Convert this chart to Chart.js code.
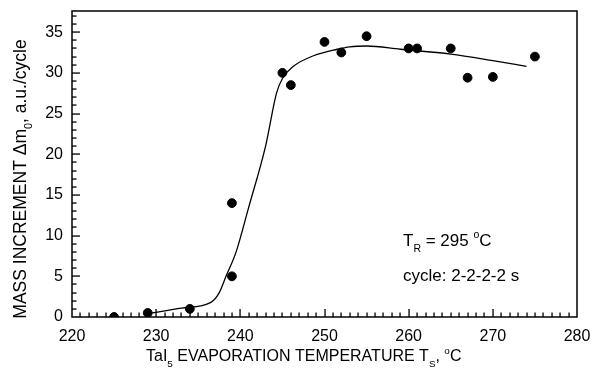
<!DOCTYPE html>
<html>
<head>
<meta charset="utf-8">
<script src="https://cdn.jsdelivr.net/npm/chart.js@4"></script>
<style>
  html, body { margin: 0; padding: 0; background: #fff; }
  #wrap { width: 592px; height: 377px; }
</style>
</head>
<body>
<div id="wrap"><canvas id="myChart"></canvas></div>
<script>
// measured mass increment per cycle vs. TaI5 source temperature
const tempPoints = [225, 229, 234, 239, 239, 245, 246, 250, 252, 255, 260, 261, 265, 267, 270, 275];
const massPoints = [0, 0.5, 1, 14, 5, 30, 28.5, 33.8, 32.5, 34.5, 33, 33, 33, 29.4, 29.5, 32];

// hand-drawn guide curve through the data
const curveTemp = [229.5, 233, 236.5, 237.5, 238.3, 239.5, 241, 243, 244.3, 245, 246.3, 248.7, 251.5, 253, 255, 259, 265, 270, 274];
const curveMass = [0.5, 1.1, 1.8, 3, 5, 8, 13.5, 21, 27.5, 29.3, 30.8, 32.1, 32.9, 33.2, 33.3, 32.9, 32.3, 31.5, 30.8];

const xTicks = [220, 230, 240, 250, 260, 270, 280];
const yTicks = [0, 5, 10, 15, 20, 25, 30, 35];

const FONT = "'Liberation Sans', Arial, sans-serif";

// draws a run of text pieces; sub/sup pieces are smaller and shifted
function richText(c, parts, x, y, size) {
  let cx = x;
  parts.forEach(p => {
    let s = size, dy = 0;
    if (p.sub) { s = size * 0.62; dy = size * 0.35; }
    if (p.sup) { s = size * 0.62; dy = -size * 0.45; }
    c.font = s + "px " + FONT;
    c.fillText(p.t, cx, y + dy);
    cx += c.measureText(p.t).width;
  });
  return cx - x;
}
function richWidth(c, parts, size) {
  let w = 0;
  parts.forEach(p => {
    c.font = (p.sub || p.sup ? size * 0.62 : size) + "px " + FONT;
    w += c.measureText(p.t).width;
  });
  return w;
}

const framePlugin = {
  id: "frame",
  afterDraw(chart) {
    const c = chart.ctx;
    const a = chart.chartArea;
    const xs = chart.scales.x, ys = chart.scales.y;
    c.save();
    c.fillStyle = "#000";
    c.strokeStyle = "#000";
    c.lineWidth = 1.5;
    c.strokeRect(a.left, a.top, a.right - a.left, a.bottom - a.top);

    // inward ticks on the left and bottom axes, minor every unit
    for (let v = 221; v < 280; v++) {
      const px = Math.round(xs.getPixelForValue(v));
      const len = v % 10 === 0 ? 8 : 4.5;
      c.fillRect(px - 0.6, a.bottom - len, 1.3, len);
    }
    for (let v = 1; v <= 37; v++) {
      const py = Math.round(ys.getPixelForValue(v));
      const len = v % 5 === 0 ? 8 : 4.5;
      c.fillRect(a.left, py - 0.6, len, 1.3);
    }

    c.textBaseline = "alphabetic";
    c.textAlign = "left";

    // x axis title
    const xt = [{ t: "TaI" }, { t: "5", sub: true }, { t: " EVAPORATION TEMPERATURE T" }, { t: "S", sub: true }, { t: ", " }, { t: "o", sup: true }, { t: "C" }];
    richText(c, xt, 146, 361, 16);

    // y axis title, rotated
    const yt = [{ t: "MASS INCREMENT \u0394m" }, { t: "0", sub: true }, { t: ", a.u./cycle" }];
    const ysz = 17.5;
    const w = richWidth(c, yt, ysz);
    c.save();
    c.translate(26, 179);
    c.rotate(-Math.PI / 2);
    richText(c, yt, -w / 2, 0, ysz);
    c.restore();

    // conditions
    richText(c, [{ t: "T" }, { t: "R", sub: true }, { t: " = 295 " }, { t: "o", sup: true }, { t: "C" }], 403, 246, 17);
    richText(c, [{ t: "cycle: 2-2-2-2 s" }], 403, 281, 17);
    c.restore();
  }
};

Chart.defaults.font.family = FONT;
Chart.defaults.color = "#000";

new Chart(document.getElementById("myChart"), {
  type: "scatter",
  data: {
    datasets: [
      {
        data: tempPoints.map((t, i) => ({ x: t, y: massPoints[i] })),
        backgroundColor: "#000",
        borderColor: "#000",
        pointRadius: 4.4,
        showLine: false,
      },
      {
        data: curveTemp.map((t, i) => ({ x: t, y: curveMass[i] })),
        borderColor: "#000",
        borderWidth: 1.3,
        pointRadius: 0,
        showLine: true,
        cubicInterpolationMode: "monotone",
      },
    ],
  },
  options: {
    responsive: true,
    maintainAspectRatio: false,
    animation: false,
    layout: { padding: { top: 11, right: 15, left: 0, bottom: 0 } },
    plugins: { legend: { display: false }, tooltip: { enabled: false } },
    scales: {
      x: {
        type: "linear",
        min: 220,
        max: 280,
        grid: { display: false, drawTicks: false, tickLength: 0 },
        border: { display: false },
        ticks: { font: { size: 16 }, padding: 10, maxRotation: 0 },
        afterBuildTicks: s => { s.ticks = xTicks.map(v => ({ value: v })); },
        afterFit: s => { s.height = 60; s.paddingLeft = 0; s.paddingRight = 0; },
      },
      y: {
        min: 0,
        max: 37.6,
        grid: { display: false, drawTicks: false, tickLength: 0 },
        border: { display: false },
        ticks: { font: { size: 16 }, padding: 9 },
        afterBuildTicks: s => { s.ticks = yTicks.map(v => ({ value: v })); },
        afterFit: s => { s.width = 72; s.paddingTop = 0; s.paddingBottom = 0; },
      },
    },
  },
  plugins: [framePlugin],
});
</script>
</body>
</html>
